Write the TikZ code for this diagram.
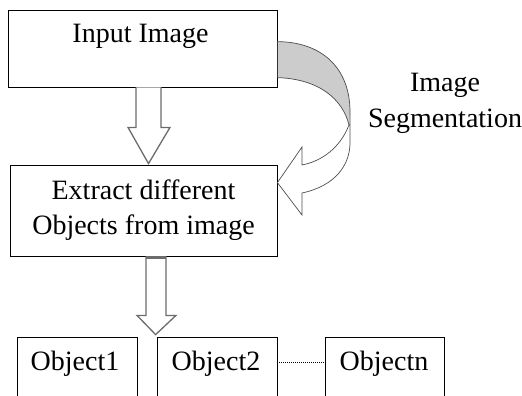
\documentclass[tikz,border=0pt]{standalone}
\usepackage{fontspec}
\setmainfont{Liberation Serif}
\usetikzlibrary{calc}
\begin{document}
\begin{tikzpicture}[x=1pt,y=-1pt,
  box/.style={draw=black, line width=0.8pt, inner sep=0pt},
  lbl/.style={font=\fontsize{28}{35}\selectfont, inner sep=0pt, anchor=base},
  hollow/.style={draw=gray!85!black, line width=1.3pt, fill=white, line join=miter},
  bandline/.style={draw=black!70, line width=0.7pt},
  bandfill/.style={fill=black!20}]
\useasboundingbox (0,0) rectangle (522,396);
\clip (0,0) rectangle (522,396);
% boxes
\node[box, minimum width=269pt, minimum height=77pt] (input) at (142.5,48.5) {};
\node[box, minimum width=267pt, minimum height=91pt] (extract) at (143.5,210.5) {};
\node[box, minimum width=120pt, minimum height=63pt] (obj1) at (77,368.5) {};
\node[box, minimum width=120pt, minimum height=63pt] (obj2) at (217,368.5) {};
\node[box, minimum width=119pt, minimum height=63pt] (objn) at (384.5,368.5) {};
% texts
\node[lbl] (tinput) at (140.5,42.5) {Input Image};
\node[lbl] (textract1) at (143.5,199) {Extract different};
\node[lbl] (textract2) at (143.5,234) {Objects from image};
\node[lbl] (tobj1) at (75,370) {Object1};
\node[lbl] (tobj2) at (216,370) {Object2};
\node[lbl] (tobjn) at (384,370) {Objectn};
\node[lbl] (tseg1) at (445,92) {Image};
\node[lbl] (tseg2) at (445,127) {Segmentation};
% hollow arrow 1
\coordinate (a1) at ($(input.south)+(6,0)$);
\coordinate (a1tip) at ($(extract.north)+(5,-1)$);
\draw[hollow] ($(a1)+(-12.5,0)$) -- ($(a1)+(-12.5,40)$) -- ($(a1)+(-20.5,40)$) -- (a1tip)
  -- ($(a1)+(21.5,40)$) -- ($(a1)+(12.5,40)$) -- ($(a1)+(12.5,0)$);
% hollow arrow 2
\coordinate (a2) at ($(extract.south)+(12.5,0)$);
\coordinate (a2tip) at ($(obj2.north west)+(-1,-2)$);
\draw[hollow] ($(a2)+(-10,0)$) -- ($(a2)+(-10,59)$) -- ($(a2)+(-19,59)$) -- (a2tip)
  -- ($(a2)+(20,59)$) -- ($(a2)+(10,59)$) -- ($(a2)+(10,0)$);
\fill[gray!85!black] ($(a2)+(-10,0)$) rectangle ($(a2)+(10,2.5)$);
% dotted connector
\draw[line width=0.8pt, dash pattern=on 1pt off 1pt] ($(obj2.north east)+(0,26)$) -- ($(objn.north west)+(0,26)$);
% curved segmentation arrow
\coordinate (cso) at ($(input.north east)+(0,32)$);
\coordinate (csi) at ($(input.north east)+(0,68)$);
\coordinate (ctip) at ($(extract.north east)+(0,18)$);
\coordinate (cx) at (349,125);
\fill[bandfill] (cso) .. controls (322,42) and (350,68) .. (350,112) -- (cx)
  .. controls (343,100) and (320,79) .. (csi) -- cycle;
\draw[bandline] (cso) .. controls (322,42) and (350,68) .. (350,112) -- (350,140)
  .. controls (351,165) and (335,186) .. (302,193) -- (302,215) -- (ctip) -- (302,147) -- (302,165)
  .. controls (322,161) and (340,148) .. (cx) .. controls (343,100) and (320,79) .. (csi);
\draw[black!80, line width=1.2pt] (cso) -- (csi);
\end{tikzpicture}
\end{document}
